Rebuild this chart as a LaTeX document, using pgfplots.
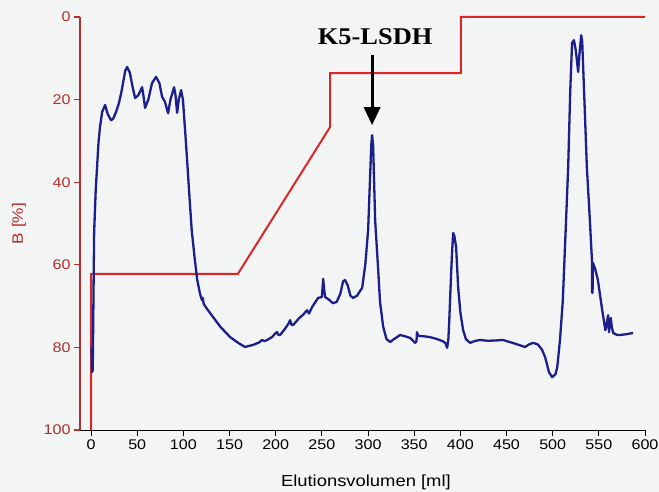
\documentclass[border=0pt]{standalone}
\usepackage{fontspec}
\setmainfont{Liberation Sans}[FakeStretch=1.15]
\newfontfamily\annfont{Liberation Serif}[FakeStretch=1.1]
\usepackage{pgfplots}
\pgfplotsset{compat=1.18}
\usetikzlibrary{arrows.meta}

\definecolor{bgc}{RGB}{242,245,244}
\definecolor{gradred}{RGB}{222,38,38}
\definecolor{axred}{RGB}{180,45,45}
\definecolor{uvblue}{RGB}{28,30,140}

\begin{document}
\begin{tikzpicture}
\fill[bgc] (-80pt,-62pt) rectangle (579pt,430pt);
\path[use as bounding box] (-80pt,-62pt) rectangle (579pt,430pt);
\begin{axis}[
  at={(0pt,0pt)}, anchor=south west,
  scale only axis, width=565pt, height=413pt,
  xmin=-12, xmax=600, ymin=0, ymax=100,
  y dir=reverse,
  separate axis lines,
  axis x line*=bottom, axis y line*=left,
  x axis line style={black, line width=1pt, -},
  y axis line style={draw=axred, line width=1.3pt, -},
  xtick={0,50,...,600}, ytick={0,20,...,100},
  tick align=outside, major tick length=6pt,
  xtick style={black, line width=1pt},
  ytick style={axred, line width=1.2pt},
  /pgf/number format/assume math mode=true,
  ticklabel style={font=\fontsize{14}{16}\selectfont},
  yticklabel style={text=axred},
  xlabel={Elutionsvolumen [ml]},
  ylabel={B [\%]},
  xlabel style={font=\fontsize{16}{18}\selectfont, at={(axis description cs:0.506,0)}, anchor=center, yshift=-52pt},
  ylabel style={font=\fontsize{15}{17}\selectfont, text=axred, at={(axis description cs:-0.108,0.5)}, anchor=center},
  clip=false,
]
% left axis line in the colour of the gradient scale
\draw[axred, line width=1.3pt] (rel axis cs:0,0) -- (rel axis cs:0,1);
% gradient of eluent B
\addplot[gradred, line width=2pt, line join=miter] coordinates {
  (0,100) (0,62.2) (159,62.2) (259,26.6) (259,13.6) (400.5,13.6) (400.5,0) (600,0)
};
% UV trace
\addplot[uvblue, line width=2.3pt, line join=round] coordinates {
  (0.5,80) (1,86) (1.8,85.5) (2.2,76.5) (3.3,52.3) (5,42) (6.5,36.3) (8,30.5) (9.7,26.6)
  (12,23) (15.2,21.3) (18,23.5) (21.7,25) (24,24.6) (27,23) (30,21) (33,18) (37,13) (39,12.1)
  (42,13.5) (45,17) (47.7,19.6) (51,19) (55.3,17) (57,19.5) (58.5,22) (62,20) (66,16) (70.4,14.5)
  (74,16) (76.9,19.3) (80,20.5) (83.4,23.3) (86,20) (89.9,17) (91.5,19) (93.2,23.2) (95,20)
  (97.5,17.7) (99.5,20) (102,28) (104,34.6) (107,45) (109,51.6) (112,58) (115,63.7) (118,67)
  (120,68.5) (121,68) (122,69.5) (126,70.8) (132,72.6) (140,75) (150.6,77.5) (160,79)
  (166.8,79.9) (170,79.7) (175.5,79.4) (182,78.8) (185,78.2) (188,78.5) (190.7,78.2)
  (196,77.5) (200,76.5) (201.5,76.3) (203,77) (204.8,77) (210,75.5) (214,74.2) (215.6,73.4)
  (217,74.5) (218.8,74.6) (225,73) (230,72) (234,71) (236,71.8) (240,70) (246,68) (250,67.8)
  (251.4,63.4) (252.5,66) (253.5,67.8) (258,68.5) (262,69.3) (266,69) (270,67) (273,64)
  (275.2,63.7) (278,65) (281,67.5) (283.9,68) (288,67.5) (293.6,65.6) (297,60) (300.1,51.6)
  (302,40) (303.5,31) (304.4,28.6) (305.5,31) (307.7,49.2) (311,61.3) (313,69) (316.4,75)
  (320,78) (324,78.7) (328,78) (334.8,77) (340,77.3) (345.6,77.7) (351,78.9) (352.5,78.5)
  (353,76.3) (354.3,77.2) (360,77.3) (367,77.5) (375,78) (381,78.5) (384,79) (385.7,80.1)
  (387,78) (388,73.4) (390,62) (391,57.1) (392.2,52.3) (393.5,53) (395.4,55.7) (397.6,65.4)
  (400,71.5) (403,75.8) (406,78) (410.6,78.9) (415,78.5) (421,78.2) (430,78.4) (440,78.3)
  (446,78.2) (455,78.8) (462,79.3) (470,79.9) (475,79.2) (479,78.9) (484,79.3) (488.6,80.6)
  (492,82.5) (496,86) (499.5,87.2) (503,86.5) (505,84.7) (508,78) (511,68.5) (514,52)
  (516.8,36.3) (519,18) (521,6.3) (523,5.6) (525,8) (527.6,13.3) (529,9) (530.9,4.4) (532,6)
  (533,12) (535,24) (537,36.3) (540,48) (542.5,58.8) (542.7,66.8) (543.2,66.8) (543.5,59.5)
  (546,61) (549,63.7) (553,70) (557,75.8) (558,75) (560,72.2) (561,76.3) (562,74) (563,72.9)
  (564,75) (565.5,76.5) (570,77) (573,77) (580,76.8) (587,76.5)
};
% peak label
\node[font=\annfont\bfseries\fontsize{24}{26}\selectfont, anchor=center] at (axis cs:307.7,4.8) {K5-LSDH};
\draw[line width=3pt, -{Triangle[length=18pt, width=16pt]}] (axis cs:304.4,9.2) -- (axis cs:304.4,26.2);
\end{axis}
\end{tikzpicture}
\end{document}
